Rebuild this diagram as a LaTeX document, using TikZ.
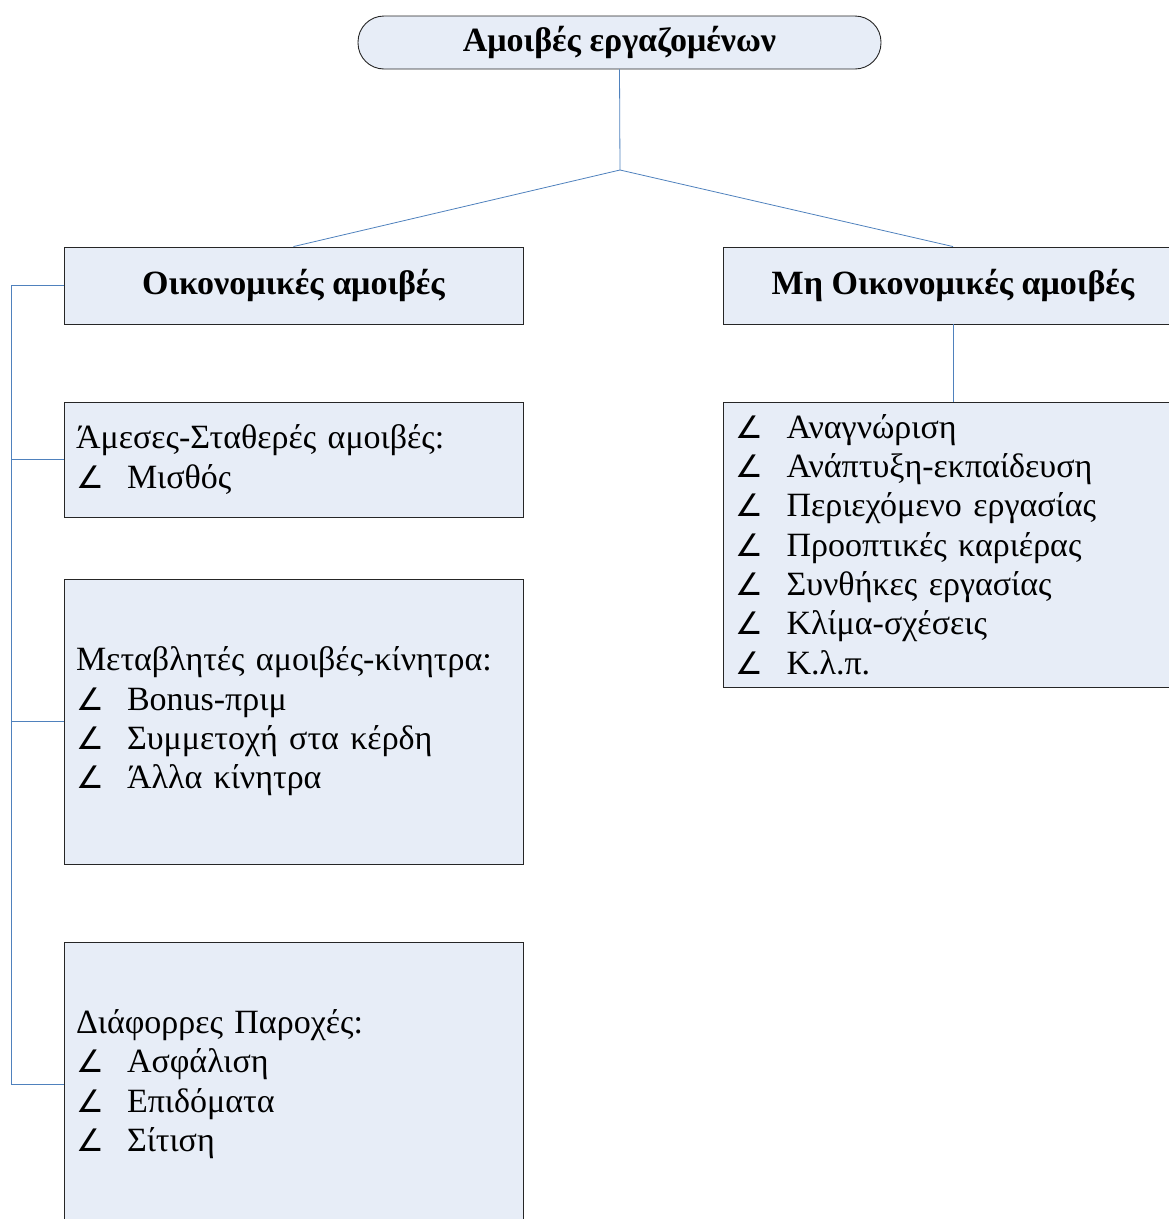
\documentclass[tikz,border=0pt]{standalone}
\usepackage{fontspec}
\setmainfont{Liberation Serif}
\newfontfamily\anglefont{DejaVu Sans}
\usetikzlibrary{positioning}
\definecolor{boxfill}{RGB}{231,237,247}
\definecolor{linkblue}{RGB}{79,129,189}
\newcommand{\itm}{\makebox[51pt][l]{\anglefont\fontsize{31}{30}\selectfont ∠}}

\begin{document}
\begin{tikzpicture}[x=1pt, y=-1pt,
    box/.style={draw=black!85, fill=boxfill, line width=0.9pt, minimum height=#1, text width=435pt, inner xsep=12pt, align=left, font=\fontsize{34}{39.3}\selectfont},
    head/.style={draw=black!85, fill=boxfill, line width=0.9pt, minimum width=459pt, minimum height=77pt, font=\bfseries\fontsize{34}{39}\selectfont},
    link/.style={draw=linkblue, line width=0.8pt}]
        \clip (0,0) rectangle (1169,1219);

        \node[draw=black!85, fill=boxfill, line width=0.9pt, rounded corners=26pt, minimum width=523pt, minimum height=53pt, font=\bfseries\fontsize{34}{39}\selectfont] (title) at (619.5,42.5) {Αμοιβές εργαζομένων};

        \node[head] (financial) at (293.5,285.5) {Οικονομικές αμοιβές};
        \node[head] (nonfinancial) at (953,285.5) {Μη Οικονομικές αμοιβές};

        \node[box=115pt] (fixedpay) at (293.5,459.5) {Άμεσες-Σταθερές αμοιβές:\\\itm Μισθός};
        \node[box=285pt] (variablepay) at (293.5,721.5) {Μεταβλητές αμοιβές-κίνητρα:\\\itm Bonus-πριμ\\\itm Συμμετοχή στα κέρδη\\\itm Άλλα κίνητρα};
        \node[box=284pt] (benefits) at (293.5,1084) {Διάφορρες Παροχές:\\\itm Ασφάλιση\\\itm Επιδόματα\\\itm Σίτιση};

        \node[box=285pt] (nonfinlist) at (953,544.5) {\itm Αναγνώριση\\\itm Ανάπτυξη-εκπαίδευση\\\itm Περιεχόμενο εργασίας\\\itm Προοπτικές καριέρας\\\itm Συνθήκες εργασίας\\\itm Κλίμα-σχέσεις\\\itm Κ.λ.π.};

        \coordinate (split) at (620,170);
        \coordinate (rail) at (11,0);
        \draw[link] (title.south) -- (split);
        \draw[link] (split) -- (financial.north);
        \draw[link] (split) -- (nonfinancial.north);
        \draw[link] (nonfinancial.south) -- (nonfinlist.north);
        \draw[link] (financial.west) -- (financial.west -| rail) -- (benefits.west -| rail) -- (benefits.west);
        \foreach \n in {fixedpay,variablepay}
            \draw[link] (\n.west -| rail) -- (\n.west);
    \end{tikzpicture}
\end{document}
